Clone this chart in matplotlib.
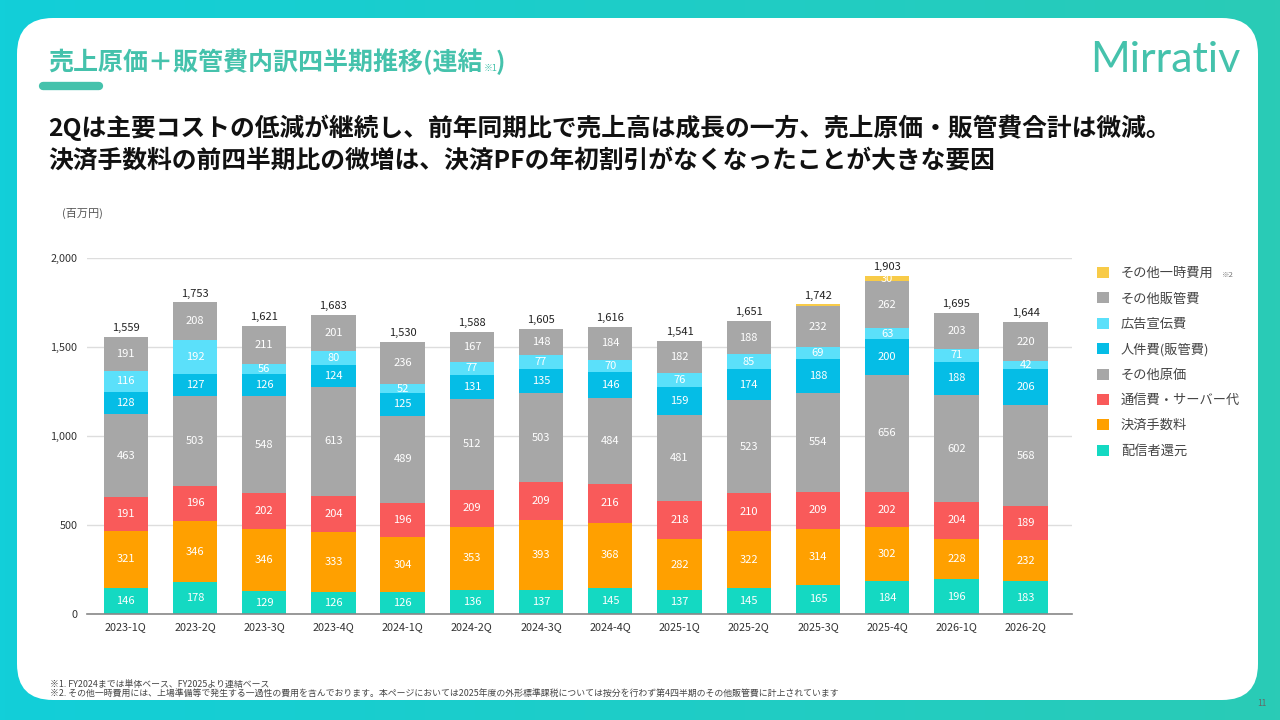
import matplotlib
matplotlib.use('Agg')
import matplotlib.pyplot as plt
import numpy as np
from matplotlib.patches import FancyBboxPatch, Patch
from matplotlib.colors import LinearSegmentedColormap

plt.rcParams['font.family'] = ['Noto Sans CJK JP', 'DejaVu Sans']

quarters = ['2023-1Q', '2023-2Q', '2023-3Q', '2023-4Q', '2024-1Q', '2024-2Q', '2024-3Q',
            '2024-4Q', '2025-1Q', '2025-2Q', '2025-3Q', '2025-4Q', '2026-1Q', '2026-2Q']
haishin = [146, 178, 129, 126, 126, 136, 137, 145, 137, 145, 165, 184, 196, 183]
kessai = [321, 346, 346, 333, 304, 353, 393, 368, 282, 322, 314, 302, 228, 232]
tsushin = [191, 196, 202, 204, 196, 209, 209, 216, 218, 210, 209, 202, 204, 189]
sonota_genka = [463, 503, 548, 613, 489, 512, 503, 484, 481, 523, 554, 656, 602, 568]
jinken = [128, 127, 126, 124, 125, 131, 135, 146, 159, 174, 188, 200, 188, 206]
koukoku = [116, 192, 56, 80, 52, 77, 77, 70, 76, 85, 69, 63, 71, 42]
sonota_hankan = [191, 208, 211, 201, 236, 167, 148, 184, 182, 188, 232, 262, 203, 220]
ichiji = [0, 0, 0, 0, 0, 0, 0, 0, 0, 0, 8, 30, 0, 0]
totals = [1559, 1753, 1621, 1683, 1530, 1588, 1605, 1616, 1541, 1651, 1742, 1903, 1695, 1644]

series = [
    ('配信者還元', haishin, '#14D9C2'),
    ('決済手数料', kessai, '#FFA000'),
    ('通信費・サーバー代', tsushin, '#F95A5A'),
    ('その他原価', sonota_genka, '#A7A7A7'),
    ('人件費(販管費)', jinken, '#05BDE6'),
    ('広告宣伝費', koukoku, '#5BE0FA'),
    ('その他販管費', sonota_hankan, '#A7A7A7'),
    ('その他一時費用', ichiji, '#F8CB48'),
]

teal = '#45C2AC'

fig = plt.figure(figsize=(12.8, 7.2), dpi=100)

# background in pixel coordinates
bg = fig.add_axes([0, 0, 1, 1])
bg.set_xlim(0, 1280)
bg.set_ylim(720, 0)
bg.axis('off')
grad = np.linspace(0, 1, 256).reshape(1, -1)
cmap = LinearSegmentedColormap.from_list('bg', ['#12CFD9', '#2ACBB6'])
bg.imshow(grad, cmap=cmap, extent=[0, 1280, 720, 0], aspect='auto', zorder=0)
panel = FancyBboxPatch((17, 18), 1241, 682, boxstyle='round,pad=0,rounding_size=36',
                       facecolor='white', edgecolor='none', zorder=1)
bg.add_patch(panel)

# header
t_title = bg.text(48, 62, '売上原価＋販管費内訳四半期推移(連結', color=teal, fontsize=18,
                  fontweight='bold', va='center', ha='left', zorder=2)
bg.plot([43, 99], [86, 86], color=teal, linewidth=6, solid_capstyle='round', zorder=2)
bg.text(1240, 60, 'Mirrativ', color=teal, fontsize=31, family='Lato', fontweight='normal',
        va='center', ha='right', zorder=2)

bg.text(48, 128, '2Qは主要コストの低減が継続し、前年同期比で売上高は成長の一方、売上原価・販管費合計は微減。',
        fontsize=17.8, fontweight='bold', color='#111111', va='center', ha='left', zorder=2)
bg.text(48, 160, '決済手数料の前四半期比の微増は、決済PFの年初割引がなくなったことが大きな要因',
        fontsize=17.8, fontweight='bold', color='#111111', va='center', ha='left', zorder=2)
bg.text(62, 213, '(百万円)', fontsize=8, color='#555555', va='center', ha='left', zorder=2)

bg.text(50, 684, '※1. FY2024までは単体ベース、FY2025より連結ベース', fontsize=6.4,
        color='#444444', va='center', ha='left', zorder=2)
bg.text(50, 693, '※2. その他一時費用には、上場準備等で発生する一過性の費用を含んでおります。'
        '本ページにおいては2025年度の外形標準課税については按分を行わず第4四半期のその他販管費に計上されています',
        fontsize=6.4, color='#444444', va='center', ha='left', zorder=2)
bg.text(1262, 703, '11', fontsize=6, color='#666666', va='center', ha='center', zorder=2)

# chart
ax = fig.add_axes([87 / 1280, (720 - 614) / 720, (1072 - 87) / 1280, (614 - 258) / 720])
ax.set_facecolor('none')
x = np.arange(len(quarters))
bottom = np.zeros(len(quarters))
handles = []
for name, vals, col in series:
    vals = np.array(vals, dtype=float)
    ax.bar(x, vals, width=0.64, bottom=bottom, color=col, zorder=3)
    for i in range(len(x)):
        if vals[i] >= 20:
            ax.text(x[i], bottom[i] + vals[i] / 2, f'{int(vals[i])}', color='white',
                    fontsize=8, ha='center', va='center', zorder=4)
    bottom += vals
    handles.append(Patch(facecolor=col, edgecolor='none', label=name))

for i in range(len(x)):
    ax.text(x[i], bottom[i] + 22, f'{totals[i]:,}', color='#222222', fontsize=8,
            ha='center', va='bottom', zorder=4)

ax.set_xlim(-0.56, 13.67)
ax.set_ylim(0, 2000)
ax.set_yticks([0, 500, 1000, 1500, 2000])
ax.set_yticklabels(['0', '500', '1,000', '1,500', '2,000'])
ax.set_xticks(x)
ax.set_xticklabels(quarters)
ax.tick_params(axis='both', length=0, labelsize=7.8, colors='#333333')
ax.tick_params(axis='y', pad=7)
ax.tick_params(axis='x', pad=6)
ax.grid(axis='y', color='#DDDDDD', linewidth=1, zorder=0)
for s in ['top', 'right', 'left']:
    ax.spines[s].set_visible(False)
ax.spines['bottom'].set_color('#888888')
ax.spines['bottom'].set_linewidth(1.2)
ax.spines['bottom'].set_zorder(5)

leg = fig.legend(handles[::-1], [h.get_label() for h in handles[::-1]],
                 loc='upper left', bbox_to_anchor=(1097, 267), bbox_transform=bg.transData,
                 frameon=False, fontsize=9.5, handlelength=0.9, handleheight=0.9,
                 handletextpad=0.9, labelspacing=0.93, borderpad=0, borderaxespad=0)
for t in leg.get_texts():
    t.set_color('#444444')

# place the small note marks after the texts they belong to
fig.canvas.draw()
inv = bg.transData.inverted()
r = fig.canvas.get_renderer()
ext = t_title.get_window_extent(r)
tx = inv.transform((ext.x1, 0))[0]
bg.text(tx + 1, 68, '※1', color=teal, fontsize=6.5, va='center', ha='left', zorder=2)
bg.text(tx + 13, 62, ')', color=teal, fontsize=18, fontweight='bold',
        va='center', ha='left', zorder=2)
lext = leg.get_texts()[0].get_window_extent(r)
lx, ly = inv.transform((lext.x1, (lext.y0 + lext.y1) / 2))
bg.text(lx + 8, ly + 1, '※2', fontsize=5.5, color='#777777', va='center', ha='left', zorder=2)

fig.savefig('out.png', dpi=100)
